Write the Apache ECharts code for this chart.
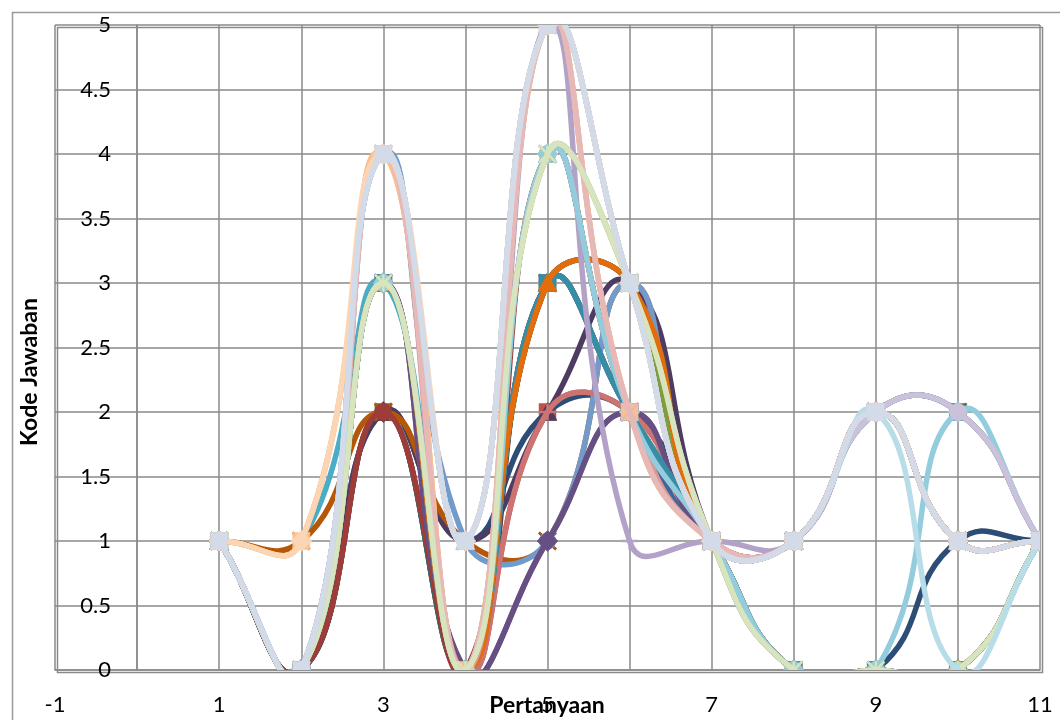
<!DOCTYPE html>
<html><head><meta charset="utf-8">
<script src="https://cdn.jsdelivr.net/npm/echarts@6/dist/echarts.min.js"></script>
<style>html,body{margin:0;padding:0;background:#fff}#c{width:1060px;height:720px}</style>
</head><body><div id="c"></div>
<script>
// Questions (x) and tick labels
const questions = [1,2,3,4,5,6,7,8,9,10,11];
const xTickLabels = [-1,1,3,5,7,9,11];
const yTickLabels = [0,0.5,1,1.5,2,2.5,3,3.5,4,4.5,5];
const xTitle = 'Pertanyaan';
const yTitle = 'Kode Jawaban';

// Answer codes per respondent (q1..q11)
const r01 = [1,0,4,1,5,3,1,1,2,1,1];
const r02 = [1,0,3,0,2,2,1,0,0,0,1];
const r03 = [1,0,3,0,3,2,1,0,0,0,1];
const r04 = [1,0,3,0,1,2,1,1,2,2,1];
const r05 = [1,1,3,0,4,2,1,0,0,0,1];
const r06 = [1,0,3,0,3,3,1,1,2,1,1];
const r07 = [1,0,2,1,2,2,1,0,0,1,1];
const r08 = [1,0,2,0,3,2,1,0,0,0,1];
const r09 = [1,0,2,0,3,3,1,1,2,2,1];
const r10 = [1,0,2,1,2,3,1,0,0,0,1];
const r11 = [1,0,2,0,3,3,1,1,2,1,1];
const r12 = [1,1,2,1,1,3,1,1,2,1,1];
const r13 = [1,0,4,1,1,3,1,1,2,2,1];
const r14 = [1,0,3,0,2,2,1,1,2,1,1];
const r15 = [1,0,3,0,3,2,1,0,0,0,1];
const r16 = [1,0,3,0,3,2,1,1,2,1,1];
const r17 = [1,0,3,0,4,2,1,1,2,2,1];
const r18 = [1,1,4,0,5,2,1,1,2,1,1];
const r19 = [1,0,3,0,3,2,1,1,2,1,1];
const r20 = [1,0,2,0,4,2,1,0,0,0,1];
const r21 = [1,0,3,0,4,3,1,1,2,1,1];
const r22 = [1,0,3,0,1,2,1,1,2,1,1];
const r23 = [1,0,3,0,3,2,1,0,0,0,1];
const r24 = [1,0,3,0,3,3,1,1,2,1,1];
const r25 = [1,0,4,1,5,3,1,1,2,1,1];
const r26 = [1,0,4,0,4,2,1,1,2,1,1];
const r27 = [1,0,3,0,4,3,1,0,0,0,1];
const r28 = [1,0,4,0,5,1,1,1,2,2,1];
const r29 = [1,0,3,0,4,2,1,0,0,2,1];
const r30 = [1,1,4,0,5,2,1,1,2,1,1];
const r31 = [1,0,4,1,5,3,1,1,2,1,1];
const r32 = [1,0,4,0,5,2,1,1,2,1,1];
const r33 = [1,0,3,0,4,3,1,0,0,0,1];
const r34 = [1,0,4,1,5,3,1,1,2,2,1];
const r35 = [1,0,4,1,5,3,1,1,2,0,1];
const r36 = [1,1,4,1,5,3,1,1,2,1,1];
const r37 = [1,0,4,1,5,3,1,1,2,1,1];
const respondents = [r01,r02,r03,r04,r05,r06,r07,r08,r09,r10,r11,r12,r13,r14,r15,r16,r17,r18,r19,r20,
  r21,r22,r23,r24,r25,r26,r27,r28,r29,r30,r31,r32,r33,r34,r35,r36,r37];

// Styles
const palette = ['#4F81BD','#C0504D','#9BBB59','#8064A2','#4BACC6','#F79646',
  '#2C4D75','#772C2A','#5F7530','#4D3B62','#276A7C','#B65708',
  '#729ACA','#CD7371','#AFC97A','#9983B5','#6FBDD1','#F9AB6B',
  '#3A679C','#9F3B38','#7E9C40','#664F83','#358EA6','#E46C0A',
  '#95B3D7','#D99694','#C3D69B','#B3A2C7','#93CDDD','#FAC090',
  '#B9CDE5','#E6B9B8','#D7E4BD','#CCC1DA','#B7DEE8','#FCD5B5','#D3DAE8'];
const markerKinds = ['diamond','square','triangle','x','star','circle','plus'];
const LINE_W = 5.5;
const SMOOTH = 0.5;

function markerShape(kind, cx, cy, color) {
  const st = { fill: color, stroke: color, lineWidth: 0.5 };
  const h = 8.5;
  if (kind === 'square') return { type: 'rect', shape: { x: cx - h, y: cy - h, width: 2*h, height: 2*h }, style: st };
  if (kind === 'circle') return { type: 'circle', shape: { cx, cy, r: h }, style: st };
  if (kind === 'diamond') return { type: 'polygon', shape: { points: [[cx, cy-h-2],[cx+h+2, cy],[cx, cy+h+2],[cx-h-2, cy]] }, style: st };
  if (kind === 'triangle') return { type: 'polygon', shape: { points: [[cx, cy-h-1],[cx+h+1, cy+h],[cx-h-1, cy+h]] }, style: st };
  const lw = { stroke: color, lineWidth: 2.5, fill: null };
  if (kind === 'x') return { type: 'group', children: [
    { type: 'line', shape: { x1: cx-h, y1: cy-h, x2: cx+h, y2: cy+h }, style: lw },
    { type: 'line', shape: { x1: cx-h, y1: cy+h, x2: cx+h, y2: cy-h }, style: lw }] };
  if (kind === 'plus') return { type: 'group', children: [
    { type: 'line', shape: { x1: cx-h, y1: cy, x2: cx+h, y2: cy }, style: lw },
    { type: 'line', shape: { x1: cx, y1: cy-h, x2: cx, y2: cy+h }, style: lw }] };
  return { type: 'group', children: [
    { type: 'line', shape: { x1: cx-h, y1: cy-h, x2: cx+h, y2: cy+h }, style: lw },
    { type: 'line', shape: { x1: cx-h, y1: cy+h, x2: cx+h, y2: cy-h }, style: lw },
    { type: 'line', shape: { x1: cx, y1: cy-h, x2: cx, y2: cy+h }, style: lw }] };
}

// Control points in pixel space (length-weighted tangent, no overshoot clamping)
function ctrl(pts, j) {
  const p = pts[Math.max(j-1, 0)], c = pts[j], n = pts[Math.min(j+1, pts.length-1)];
  const vx = n[0] - p[0], vy = n[1] - p[1];
  const lp = Math.hypot(c[0]-p[0], c[1]-p[1]), ln = Math.hypot(n[0]-c[0], n[1]-c[1]);
  const rn = (lp + ln) > 0 ? ln / (lp + ln) : 0.5;
  return {
    out: [c[0] + vx*SMOOTH*rn, c[1] + vy*SMOOTH*rn],
    inn: [c[0] - vx*SMOOTH*(1-rn), c[1] - vy*SMOOTH*(1-rn)]
  };
}

const series = respondents.map((vals, i) => {
  const color = palette[i];
  const kind = markerKinds[i % markerKinds.length];
  return {
    type: 'custom',
    name: 'R' + (i+1),
    coordinateSystem: 'cartesian2d',
    clip: true,
    silent: true,
    animation: false,
    encode: { x: 0, y: 1 },
    data: questions.map((q, k) => [q, vals[k]]),
    renderItem: (params, api) => {
      const idx = params.dataIndex;
      const pts = questions.map((q, k) => api.coord([q, vals[k]]));
      const children = [];
      if (idx < pts.length - 1) {
        const a = ctrl(pts, idx), b = ctrl(pts, idx+1);
        children.push({ type: 'bezierCurve',
          shape: { x1: pts[idx][0], y1: pts[idx][1], x2: pts[idx+1][0], y2: pts[idx+1][1],
                   cpx1: a.out[0], cpy1: a.out[1], cpx2: b.inn[0], cpy2: b.inn[1] },
          style: { stroke: color, lineWidth: LINE_W, fill: null, lineCap: 'round' } });
      }
      children.push(markerShape(kind, pts[idx][0], pts[idx][1], color));
      return { type: 'group', children };
    }
  };
});

const gridColor = '#8A8A8A';
const chart = echarts.init(document.getElementById('c'), null, { renderer: 'canvas' });
chart.setOption({
  backgroundColor: '#fff',
  animation: false,
  grid: { left: 55, right: 20, top: 25, bottom: 50, containLabel: false, outerBoundsMode: 'none' },
  xAxis: {
    type: 'value', min: -1, max: 11, interval: 1,
    axisLine: { show: true, onZero: false, lineStyle: { color: gridColor, width: 1.5 } },
    axisTick: { show: false },
    axisLabel: {
      fontFamily: 'Lato', fontSize: 22, color: '#000', margin: 24,
      formatter: v => xTickLabels.includes(v) ? String(v) : ''
    },
    splitLine: { show: true, lineStyle: { color: gridColor, width: 1.5 } }
  },
  yAxis: {
    type: 'value', min: 0, max: 5, interval: 0.5, offset: -82,
    axisLine: { show: true, onZero: true, lineStyle: { color: gridColor, width: 1.5 } },
    axisTick: { show: false },
    axisLabel: {
      fontFamily: 'Lato', fontSize: 22, color: '#000', margin: 26,
      formatter: v => yTickLabels.includes(v) ? String(v) : ''
    },
    splitLine: { show: true, lineStyle: { color: gridColor, width: 1.5 } }
  },
  graphic: [
    { type: 'rect', left: 10, top: 10, shape: { width: 1060, height: 720 },
      style: { fill: 'none', stroke: '#9A9A9A', lineWidth: 1.5 }, silent: true, z: -10 },
    { type: 'rect', left: 55, top: 25, shape: { width: 985, height: 645 },
      style: { fill: 'none', stroke: gridColor, lineWidth: 1.5 }, silent: true, z: -9 },
    { type: 'text', x: 30, y: 372, rotation: Math.PI / 2,
      style: { text: yTitle, fontFamily: 'Lato', fontWeight: 'bold', fontSize: 23,
        fill: '#000', align: 'center', verticalAlign: 'middle' }, z: 10 },
    { type: 'text', x: 547, y: 706,
      style: { text: xTitle, fontFamily: 'Lato', fontWeight: 'bold', fontSize: 23,
        fill: '#000', align: 'center', verticalAlign: 'middle' }, z: 10 }
  ],
  series: series
});
</script>
</body></html>
